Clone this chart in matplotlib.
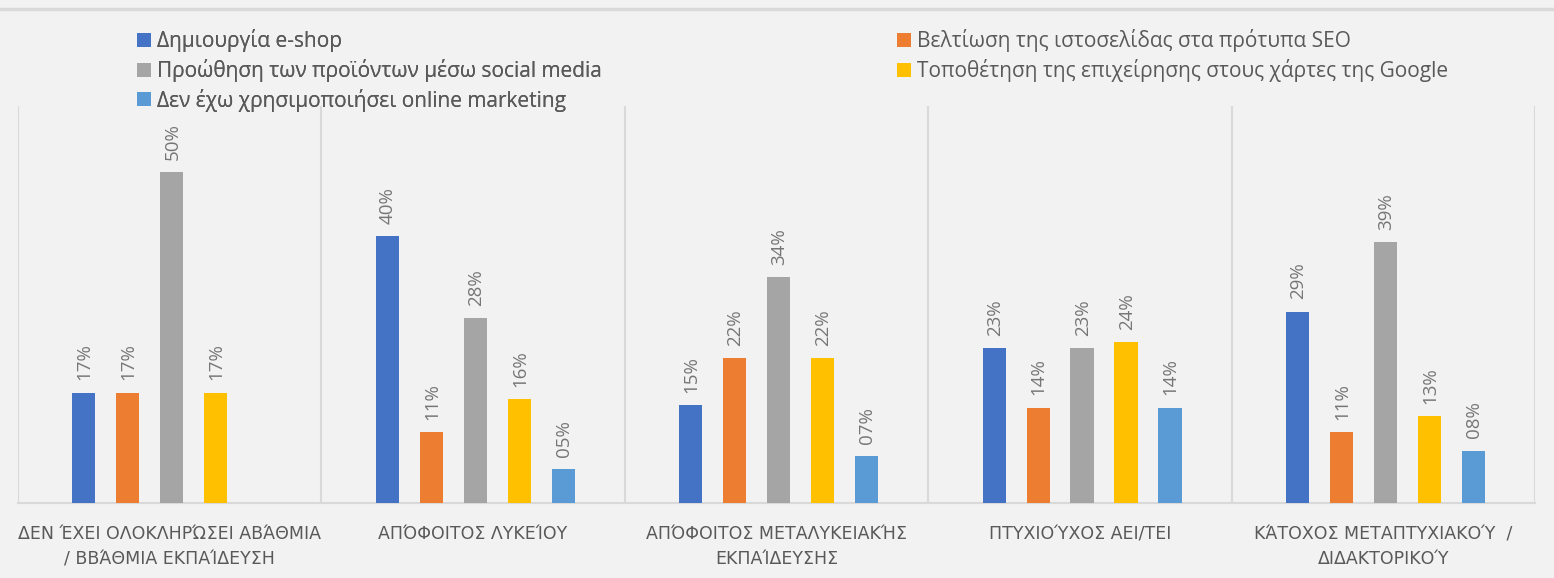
import matplotlib
matplotlib.use("Agg")
import matplotlib.pyplot as plt
from matplotlib.patches import Patch
from matplotlib.lines import Line2D
import numpy as np

# categories (education level)
categories = [
    "ΔΕΝ ΈΧΕΙ ΟΛΟΚΛΗΡΏΣΕΙ ΑΒΆΘΜΙΑ\n/ ΒΒΆΘΜΙΑ ΕΚΠΑΊΔΕΥΣΗ",
    "ΑΠΌΦΟΙΤΟΣ ΛΥΚΕΊΟΥ",
    "ΑΠΌΦΟΙΤΟΣ ΜΕΤΑΛΥΚΕΙΑΚΉΣ\nΕΚΠΑΊΔΕΥΣΗΣ",
    "ΠΤΥΧΙΟΎΧΟΣ ΑΕΙ/ΤΕΙ",
    "ΚΆΤΟΧΟΣ ΜΕΤΑΠΤΥΧΙΑΚΟΎ  /\nΔΙΔΑΚΤΟΡΙΚΟΎ",
]
series_names = [
    "Δημιουργία e-shop",
    "Βελτίωση της ιστοσελίδας στα πρότυπα SEO",
    "Προώθηση των προϊόντων μέσω social media",
    "Τοποθέτηση της επιχείρησης στους χάρτες της Google",
    "Δεν έχω χρησιμοποιήσει online marketing",
]
eshop = [0.1667, 0.403, 0.148, 0.234, 0.289]
seo = [0.1667, 0.107, 0.219, 0.144, 0.107]
social = [0.50, 0.279, 0.341, 0.234, 0.394]
google = [0.1667, 0.157, 0.219, 0.243, 0.131]
none_ = [None, 0.051, 0.071, 0.144, 0.079]
colors = ["#4472C4", "#ED7D31", "#A5A5A5", "#FFC000", "#5B9BD5"]

bg = "#f2f2f2"
txt = "#595959"
grid = "#d9d9d9"

fig = plt.figure(figsize=(15.54, 5.78), dpi=100, facecolor=bg)
ax = fig.add_axes([18 / 1554, 75 / 578, 1517 / 1554, 397 / 578])
ax.set_facecolor(bg)

x = np.arange(len(categories))
pitch = 0.145
width = 0.076
shift = 0.007
all_series = [eshop, seo, social, google, none_]
for i, vals in enumerate(all_series):
    pos = x + (i - 2) * pitch + shift
    for p, v in zip(pos, vals):
        if v is None:
            continue
        ax.bar(p, v, width=width, color=colors[i], zorder=3)
        ax.annotate("%02d%%" % round(v * 100), (p, v), xytext=(0.5, 9),
                    textcoords="offset points", rotation=90, ha="center", va="bottom",
                    color="#767676", fontsize=13.5, family=["Open Sans", "DejaVu Sans"])

ax.set_xlim(-0.5, len(categories) - 0.5)
ax.set_ylim(0, 0.6)
ax.set_yticks([])
ax.set_xticks(x)
ax.set_xticklabels(categories, color=txt, fontsize=12.5,
                   family=["Liberation Sans Narrow", "DejaVu Sans"], linespacing=1.5)
ax.tick_params(axis="x", length=0, pad=16)
for s in ["top", "left", "right"]:
    ax.spines[s].set_visible(False)
ax.spines["bottom"].set_color(grid)
ax.spines["bottom"].set_linewidth(1.5)
for b in np.arange(-0.5, len(categories), 1.0):
    ax.axvline(b, color=grid, lw=1.5, zorder=1)

# thin border line at the top
fig.add_artist(Line2D([0, 1], [1 - 9 / 578, 1 - 9 / 578], color=grid, lw=2.5,
                      transform=fig.transFigure))

handles = [Patch(facecolor=c) for c in colors]
lkw = dict(frameon=False, labelcolor=txt, handlelength=0.65,
           handleheight=0.65, handletextpad=0.3, labelspacing=0.33,
           prop={"family": ["Open Sans", "DejaVu Sans"], "size": 15},
           loc="upper left", borderaxespad=0, borderpad=0)
leg1 = fig.legend([handles[0], handles[2], handles[4]],
                  [series_names[0], series_names[2], series_names[4]],
                  bbox_to_anchor=(137 / 1554, 1 - 29 / 578), **lkw)
fig.add_artist(leg1)
fig.legend([handles[1], handles[3]], [series_names[1], series_names[3]],
           bbox_to_anchor=(897 / 1554, 1 - 29 / 578), **lkw)

fig.savefig("out.png", dpi=100, facecolor=bg)
